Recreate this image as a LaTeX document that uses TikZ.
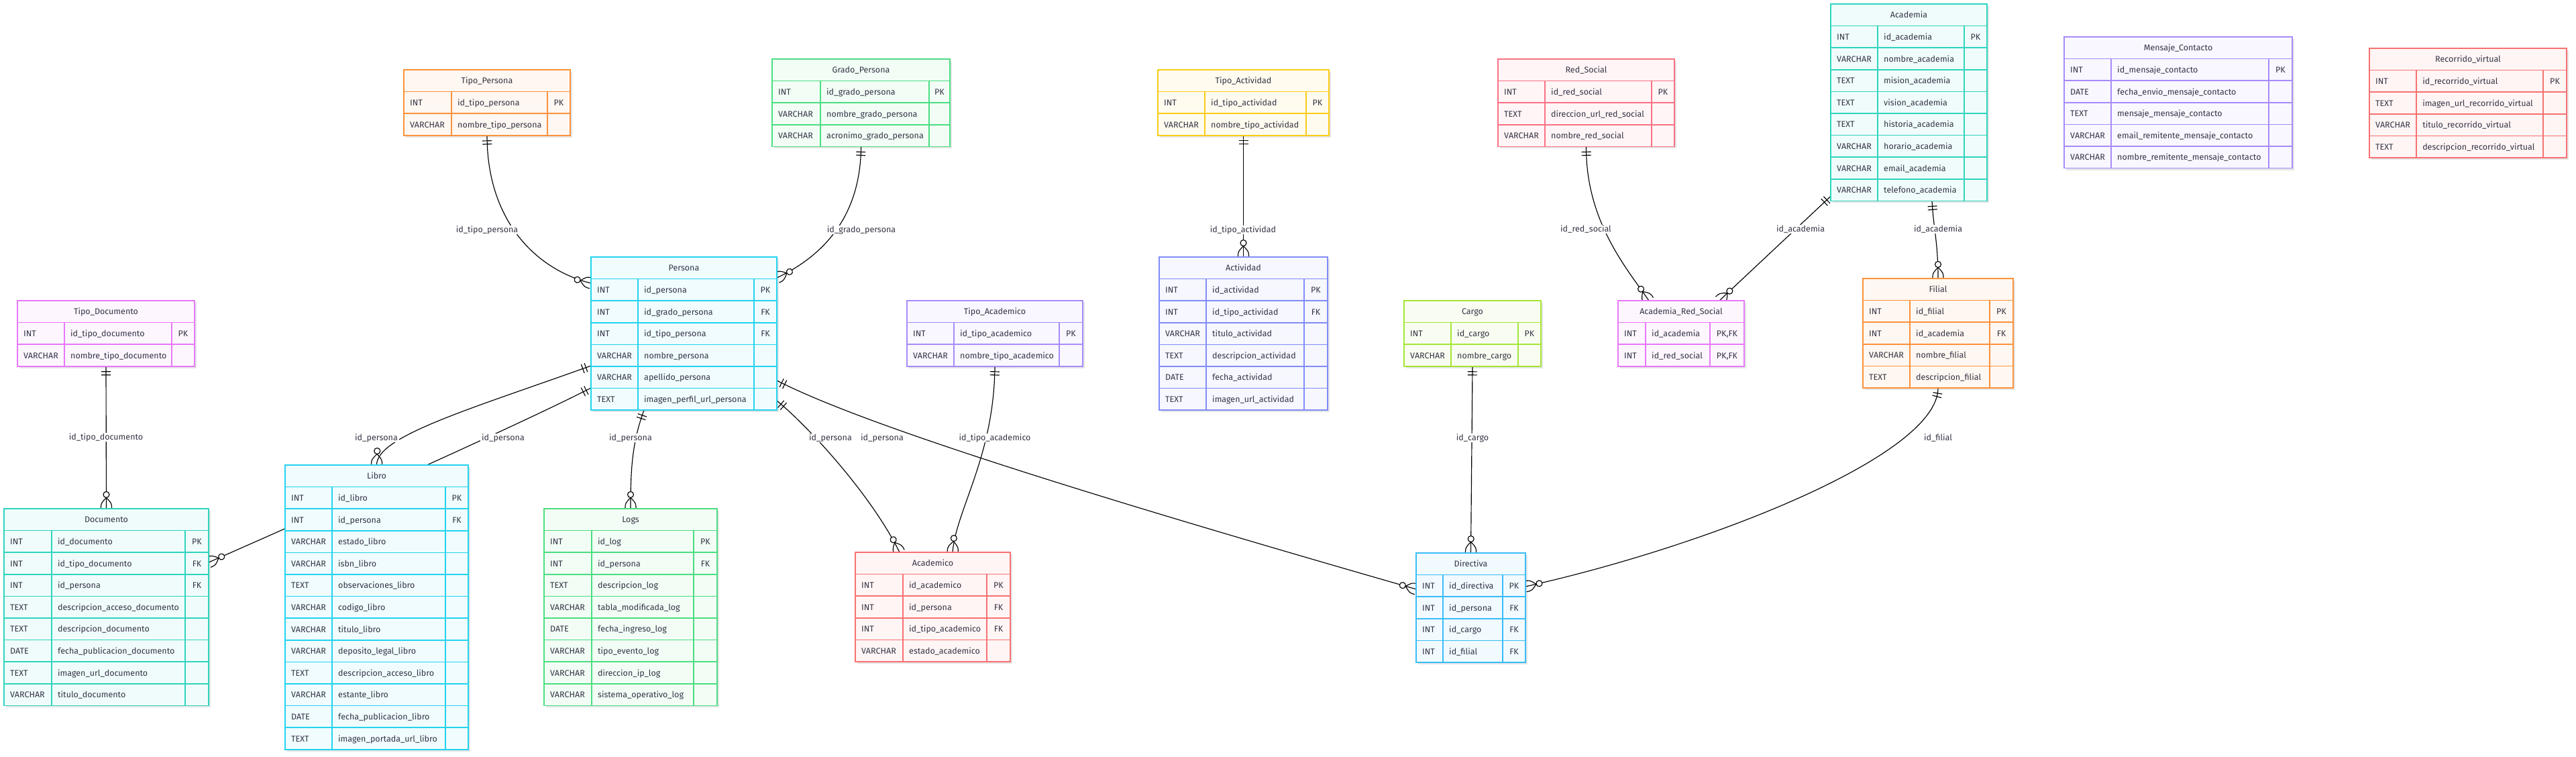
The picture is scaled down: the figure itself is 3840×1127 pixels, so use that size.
\documentclass[tikz,border=0pt]{standalone}
\usepackage{fontspec}
\setmainfont{Fira Sans}
\usepackage{tikz}
\usetikzlibrary{calc,decorations.markings,shadows}
\usepackage{xcolor}
\definecolor{ink}{HTML}{333344}
\definecolor{corange}{HTML}{FB923C}
\definecolor{cgreen}{HTML}{4ADE80}
\definecolor{cyellow}{HTML}{FACC15}
\definecolor{crose}{HTML}{FB7185}
\definecolor{cteal}{HTML}{2DD4BF}
\definecolor{cviolet}{HTML}{A78BFA}
\definecolor{cred}{HTML}{F87171}
\definecolor{cfuchsia}{HTML}{E879F9}
\definecolor{ccyan}{HTML}{22D3EE}
\definecolor{cindigo}{HTML}{818CF8}
\definecolor{clime}{HTML}{A3E635}
\definecolor{csky}{HTML}{38BDF8}
\pgfdeclarelayer{background}
\pgfsetlayers{background,main}
\tikzset{
  tbl/.style      = {anchor=north west, inner sep=0pt, outer sep=0pt, line width=1.5pt,
                     drop shadow={shadow xshift=3pt, shadow yshift=-3pt, opacity=0.10, fill=black}},
  tblline/.style  = {draw=#1, line width=1.5pt},
  tbltitle/.style = {inner sep=0pt, text=ink, text height=9pt, text depth=0pt},
  cell/.style     = {inner sep=0pt, text=ink, text height=9pt, text depth=0pt},
  lbl/.style      = {fill=white, inner sep=2pt, text=ink, text height=9pt, text depth=0pt},
  rel/.style      = {line width=1.15pt, black, postaction={decorate},
    decoration={markings,
      mark=at position 8pt with {\draw[line width=1.15pt] (0,-7) -- (0,7);},
      mark=at position 13pt with {\draw[line width=1.15pt] (0,-7) -- (0,7);},
      mark=at position -1pt with {%
        \draw[line width=1.15pt] (-15.5,0) .. controls (-7,8) .. (1,8);
        \draw[line width=1.15pt] (-15.5,0) .. controls (-7,-8) .. (1,-8);
        \draw[line width=1.15pt, fill=white] (-20,0) circle (4.5);}}},
}
\newcommand{\rowh}{32.6}
% name, x,y, width, col1, col3, rows, colour, title, fields
\newcommand{\ertable}[9]{%
  \node[tbl, draw=#7, fill=#7!7, minimum width=#3, minimum height={(#6+1)*\rowh}] (#1) at (#2) {};
  \begin{scope}[shift={(#1.north west)}]
    \node[tbltitle] (#1-title) at ({#3/2}, {\rowh/2}) {#8};
    \foreach \ty/\fd/\ky [count=\i] in {#9} {
      \node[cell, anchor=west] (#1-t\i) at (9, {(\i+0.5)*\rowh}) {\ty};
      \node[cell, anchor=west] (#1-f\i) at ({#4+9}, {(\i+0.5)*\rowh}) {\fd};
      \node[cell] (#1-k\i) at ({#3-#5/2}, {(\i+0.5)*\rowh}) {\ky};
      \draw[tblline=#7] (0, {\i*\rowh}) -- (#3, {\i*\rowh});
    }
    \draw[tblline=#7] (#4, \rowh) -- (#4, {(#6+1)*\rowh})
      ({#3-#5}, \rowh) -- ({#3-#5}, {(#6+1)*\rowh});
  \end{scope}
}

\begin{document}
\begin{tikzpicture}[x=1pt, y=-1pt, font=\fontsize{12.5}{15}\selectfont]
\useasboundingbox (0,0) rectangle (3840,1127);

% entities
\ertable{tipopersona}{602,104}{248}{71}{34}{2}{corange}{Tipo\_Persona}{%
  INT/id\_tipo\_persona/PK, VARCHAR/nombre\_tipo\_persona/{}}
\ertable{gradopersona}{1151,88}{265}{72}{31}{3}{cgreen}{Grado\_Persona}{%
  INT/id\_grado\_persona/PK, VARCHAR/nombre\_grado\_persona/{}, VARCHAR/acronimo\_grado\_persona/{}}
\ertable{tipoactividad}{1726,104}{255}{70}{34}{2}{cyellow}{Tipo\_Actividad}{%
  INT/id\_tipo\_actividad/PK, VARCHAR/nombre\_tipo\_actividad/{}}
\ertable{redsocial}{2233,88}{263}{70}{34}{3}{crose}{Red\_Social}{%
  INT/id\_red\_social/PK, TEXT/direccion\_url\_red\_social/{}, VARCHAR/nombre\_red\_social/{}}
\ertable{academia}{2729,6}{233}{70}{34}{8}{cteal}{Academia}{%
  INT/id\_academia/PK, VARCHAR/nombre\_academia/{}, TEXT/mision\_academia/{},
  TEXT/vision\_academia/{}, TEXT/historia\_academia/{}, VARCHAR/horario\_academia/{},
  VARCHAR/email\_academia/{}, VARCHAR/telefono\_academia/{}}
\ertable{mensaje}{3077,55}{340}{70}{35}{5}{cviolet}{Mensaje\_Contacto}{%
  INT/id\_mensaje\_contacto/PK, DATE/fecha\_envio\_mensaje\_contacto/{},
  TEXT/mensaje\_mensaje\_contacto/{}, VARCHAR/email\_remitente\_mensaje\_contacto/{},
  VARCHAR/nombre\_remitente\_mensaje\_contacto/{}}
\ertable{recorrido}{3532,72}{294}{70}{35}{4}{cred}{Recorrido\_virtual}{%
  INT/id\_recorrido\_virtual/PK, TEXT/imagen\_url\_recorrido\_virtual/{},
  VARCHAR/titulo\_recorrido\_virtual/{}, TEXT/descripcion\_recorrido\_virtual/{}}
\ertable{tipodocumento}{26,448}{264}{70}{34}{2}{cfuchsia}{Tipo\_Documento}{%
  INT/id\_tipo\_documento/PK, VARCHAR/nombre\_tipo\_documento/{}}
\ertable{persona}{881,383}{277}{70}{34}{6}{ccyan}{Persona}{%
  INT/id\_persona/PK, INT/id\_grado\_persona/FK, INT/id\_tipo\_persona/FK,
  VARCHAR/nombre\_persona/{}, VARCHAR/apellido\_persona/{}, TEXT/imagen\_perfil\_url\_persona/{}}
\ertable{tipoacademico}{1352,448}{262}{70}{35}{2}{cviolet}{Tipo\_Academico}{%
  INT/id\_tipo\_academico/PK, VARCHAR/nombre\_tipo\_academico/{}}
\ertable{actividad}{1728,383}{251}{70}{35}{6}{cindigo}{Actividad}{%
  INT/id\_actividad/PK, INT/id\_tipo\_actividad/FK, VARCHAR/titulo\_actividad/{},
  TEXT/descripcion\_actividad/{}, DATE/fecha\_actividad/{}, TEXT/imagen\_url\_actividad/{}}
\ertable{cargo}{2093,448}{204}{70}{34}{2}{clime}{Cargo}{%
  INT/id\_cargo/PK, VARCHAR/nombre\_cargo/{}}
\ertable{academiaredsocial}{2412,448}{188}{41}{51}{2}{cfuchsia}{Academia\_Red\_Social}{%
  INT/id\_academia/{PK,FK}, INT/id\_red\_social/{PK,FK}}
\ertable{filial}{2777,415}{224}{70}{35}{4}{corange}{Filial}{%
  INT/id\_filial/PK, INT/id\_academia/FK, VARCHAR/nombre\_filial/{}, TEXT/descripcion\_filial/{}}
\ertable{documento}{6,758}{305}{71}{35}{8}{cteal}{Documento}{%
  INT/id\_documento/PK, INT/id\_tipo\_documento/FK, INT/id\_persona/FK,
  TEXT/descripcion\_acceso\_documento/{}, TEXT/descripcion\_documento/{},
  DATE/fecha\_publicacion\_documento/{}, TEXT/imagen\_url\_documento/{}, VARCHAR/titulo\_documento/{}}
\ertable{libro}{425,693}{273}{70}{34}{12}{ccyan}{Libro}{%
  INT/id\_libro/PK, INT/id\_persona/FK, VARCHAR/estado\_libro/{}, VARCHAR/isbn\_libro/{},
  TEXT/observaciones\_libro/{}, VARCHAR/codigo\_libro/{}, VARCHAR/titulo\_libro/{},
  VARCHAR/deposito\_legal\_libro/{}, TEXT/descripcion\_acceso\_libro/{}, VARCHAR/estante\_libro/{},
  DATE/fecha\_publicacion\_libro/{}, TEXT/imagen\_portada\_url\_libro/{}}
\ertable{logs}{811,758}{258}{71}{35}{8}{cgreen}{Logs}{%
  INT/id\_log/PK, INT/id\_persona/FK, TEXT/descripcion\_log/{}, VARCHAR/tabla\_modificada\_log/{},
  DATE/fecha\_ingreso\_log/{}, VARCHAR/tipo\_evento\_log/{}, VARCHAR/direccion\_ip\_log/{},
  VARCHAR/sistema\_operativo\_log/{}}
\ertable{academico}{1275,823}{231}{71}{35}{4}{cred}{Academico}{%
  INT/id\_academico/PK, INT/id\_persona/FK, INT/id\_tipo\_academico/FK, VARCHAR/estado\_academico/{}}
\ertable{directiva}{2111,824}{163}{40}{34}{4}{csky}{Directiva}{%
  INT/id\_directiva/PK, INT/id\_persona/FK, INT/id\_cargo/FK, INT/id\_filial/FK}

% relationships
\begin{pgfonlayer}{background}
\draw[rel] (tipopersona.south) .. controls (726,330) and (800,402) .. ($(persona.north west)+(0,39)$);
\draw[rel] (gradopersona.south) .. controls (1283,320) and (1230,380) .. ($(persona.north east)+(0,31)$);
\draw[rel] (tipoactividad.south) -- (actividad.north);
\draw[rel] (redsocial.south) .. controls (2364,330) and (2425,400) .. ($(academiaredsocial.north west)+(46,0)$);
\draw[rel] ($(academia.south west)+(0,-7)$) -- ($(academiaredsocial.north west)+(151,0)$);
\draw[rel] ($(academia.south west)+(151,0)$) .. controls (2882,340) and (2889,360) .. (filial.north);
\draw[rel] (tipodocumento.south) -- (documento.north);
\draw[rel] ($(persona.north west)+(0,162)$) .. controls (700,610) and (561,650) .. (libro.north);
\draw[rel] ($(persona.north west)+(0,195)$) .. controls (760,640) and (420,790) .. ($(documento.north east)+(0,80)$);
\draw[rel] ($(persona.south west)+(79,0)$) .. controls (942,660) and (940,700) .. (logs.north);
\draw[rel] ($(persona.north east)+(0,214)$) .. controls (1210,640) and (1300,740) .. ($(academico.north west)+(66,0)$);
\draw[rel] ($(persona.north east)+(0,184)$) .. controls (1300,640) and (1700,760) .. ($(directiva.north west)+(0,54)$);
\draw[rel] (tipoacademico.south) .. controls (1482,680) and (1425,760) .. ($(academico.north west)+(145,0)$);
\draw[rel] (cargo.south) -- (directiva.north);
\draw[rel] (filial.south) .. controls (2889,680) and (2540,815) .. ($(directiva.north east)+(0,50)$);
\end{pgfonlayer}

% labels
\node[lbl] (lblTipoPersona)    at (726,342)  {id\_tipo\_persona};
\node[lbl] (lblGradoPersona)   at (1284,342) {id\_grado\_persona};
\node[lbl] (lblTipoActividad)  at (1853,342) {id\_tipo\_actividad};
\node[lbl] (lblRedSocial)      at (2364,341) {id\_red\_social};
\node[lbl] (lblAcademiaRed)    at (2684,341) {id\_academia};
\node[lbl] (lblAcademiaFilial) at (2889,341) {id\_academia};
\node[lbl] (lblTipoDocumento)  at (158,651)  {id\_tipo\_documento};
\node[lbl] (lblLibro)          at (561,652)  {id\_persona};
\node[lbl] (lblDocumento)      at (750,652)  {id\_persona};
\node[lbl] (lblLogs)           at (940,652)  {id\_persona};
\node[lbl] (lblAcademico)      at (1238,652) {id\_persona};
\node[lbl] (lblDirectiva)      at (1315,652) {id\_persona};
\node[lbl] (lblTipoAcademico)  at (1483,652) {id\_tipo\_academico};
\node[lbl] (lblCargo)          at (2195,652) {id\_cargo};
\node[lbl] (lblFilial)         at (2889,652) {id\_filial};
\end{tikzpicture}
\end{document}
